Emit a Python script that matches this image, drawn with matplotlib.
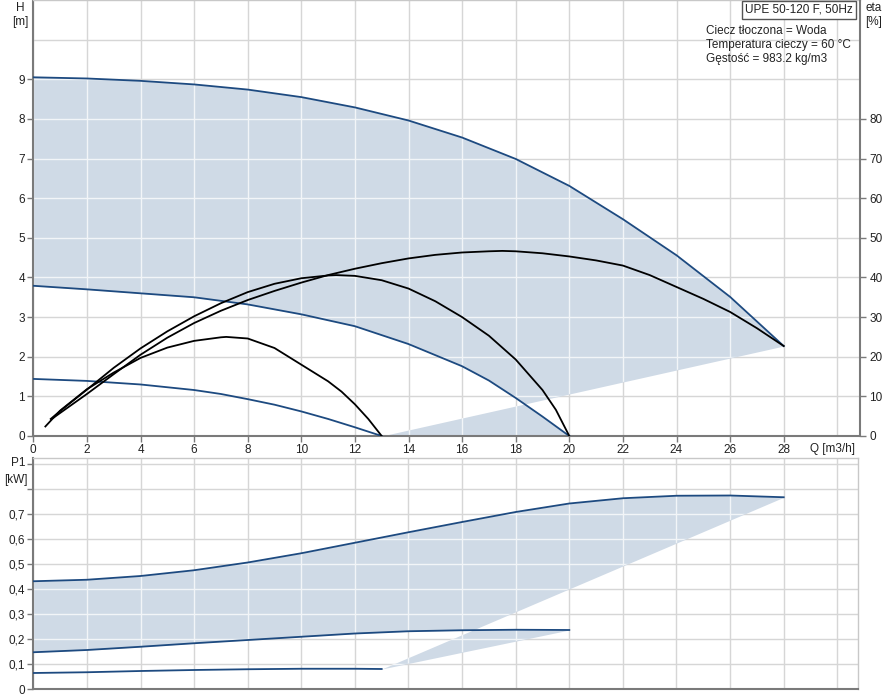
import numpy as np
import matplotlib.pyplot as plt
from matplotlib.path import Path
from matplotlib.patches import PathPatch

plt.rcParams['font.family'] = ['Liberation Sans', 'DejaVu Sans']
plt.rcParams['font.size'] = 8.5

# pump curves (Q in m3/h)
q_h_max = [0, 2, 4, 6, 8, 10, 12, 14, 16, 18, 20, 22, 24, 26, 28]
h_max = [9.05, 9.02, 8.96, 8.87, 8.74, 8.55, 8.29, 7.96, 7.53, 6.99, 6.31, 5.47, 4.56, 3.51, 2.27]
q_h_mid = [0, 2, 4, 6, 8, 10, 12, 14, 16, 17, 18, 19, 20]
h_mid = [3.79, 3.70, 3.60, 3.50, 3.32, 3.07, 2.77, 2.32, 1.76, 1.40, 0.96, 0.49, 0.0]
q_h_min = [0, 2, 4, 6, 7, 8, 9, 10, 11, 12, 13]
h_min = [1.44, 1.39, 1.30, 1.16, 1.06, 0.93, 0.79, 0.62, 0.43, 0.22, 0.0]

q_eta_max = [0.75, 1, 2, 3, 4, 5, 6, 7, 8, 9, 10, 11, 12, 13, 14, 15, 16, 17, 17.5, 18, 19,
             20, 21, 22, 23, 24, 25, 26, 27, 28]
eta_max = [4.6, 5.8, 10.6, 15.6, 20.5, 24.8, 28.5, 31.6, 34.3, 36.6, 38.7, 40.6, 42.2, 43.6,
           44.8, 45.7, 46.3, 46.6, 46.7, 46.6, 46.1, 45.3, 44.3, 43.0, 40.6, 37.6, 34.6, 31.3, 27.2, 22.7]
q_eta_mid = [0.65, 1, 2, 3, 4, 5, 6, 7, 8, 9, 10, 11, 11.3, 12, 13, 14, 15, 16, 17, 18, 19, 19.5, 20]
eta_mid = [4.3, 6.3, 11.7, 17.2, 22.1, 26.4, 30.2, 33.5, 36.3, 38.4, 39.8, 40.5, 40.6, 40.4,
           39.3, 37.2, 34.0, 30.0, 25.3, 19.3, 11.6, 6.6, 0.0]
q_eta_min = [0.45, 1, 2, 3, 4, 5, 6, 7, 7.2, 8, 9, 10, 11, 11.5, 12, 12.5, 13]
eta_min = [2.4, 6.4, 11.8, 16.0, 19.7, 22.3, 24.0, 24.9, 25.0, 24.6, 22.2, 18.0, 13.8, 11.2, 8.0, 4.3, 0.0]

q_p_max = [0, 2, 4, 6, 8, 10, 12, 14, 16, 18, 20, 22, 24, 26, 28]
p_max = [0.431, 0.437, 0.452, 0.475, 0.506, 0.543, 0.585, 0.627, 0.668, 0.708, 0.742, 0.763,
         0.773, 0.774, 0.767]
q_p_mid = [0, 2, 4, 6, 8, 10, 12, 14, 16, 18, 20]
p_mid = [0.147, 0.156, 0.169, 0.183, 0.196, 0.209, 0.222, 0.231, 0.235, 0.237, 0.236]
q_p_min = [0, 2, 4, 6, 8, 10, 12, 13]
p_min = [0.064, 0.067, 0.072, 0.076, 0.079, 0.081, 0.081, 0.080]

x_ticks = list(range(0, 29, 2))
h_ticks = list(range(0, 10))
eta_ticks = list(range(0, 81, 10))
p_ticks = [0, 0.1, 0.2, 0.3, 0.4, 0.5, 0.6, 0.7]
p_labels = ['0', '0,1', '0,2', '0,3', '0,4', '0,5', '0,6', '0,7']

FILL = '#cfdae6'
CURVE = '#1d4a80'
GRID = '#d6d6d6'
AXIS = '#7a7a7a'
BORDER = '#c8c8c8'
TXT = '#222222'

W, Hpx = 886, 699
fig = plt.figure(figsize=(W / 100, Hpx / 100), dpi=100)


def fx(px):
    return px / W


def fy(py):
    return 1 - py / Hpx


def work_area(ax, q_top, v_top, q_mid, v_mid, q_low, v_low):
    # shaded area = area under max curve xor area under mid curve
    xs = np.linspace(0, q_top[-1], 1121)
    q_brk = q_low[-1]
    low = np.interp(xs, q_low, v_low)
    a_hi = np.interp(xs, q_top, v_top)
    a_lo = np.where(xs <= q_brk, low, np.interp(xs, [q_brk, q_top[-1]], [v_low[-1], v_top[-1]]))
    b_hi = np.interp(xs, q_mid, v_mid)
    b_lo = np.where(xs <= q_brk, low, np.interp(xs, [q_brk, q_mid[-1]], [v_low[-1], v_mid[-1]]))
    out = xs > q_mid[-1]
    b_hi = np.where(out, a_lo, b_hi)
    b_lo = np.where(out, a_lo, b_lo)
    p = np.sort(np.vstack([a_lo, a_hi, b_lo, b_hi]), axis=0)
    c1 = ax.fill_between(xs, p[0], p[1], color=FILL, lw=0, zorder=1)
    c2 = ax.fill_between(xs, p[2], p[3], color=FILL, lw=0, zorder=1)
    path = Path.make_compound_path(*c1.get_paths(), *c2.get_paths())
    return PathPatch(path, transform=ax.transData, fc='none', ec='none')


def grid_lines(ax, xs, ys, clip):
    for x in xs:
        ax.axvline(x, color=GRID, lw=1, zorder=0.5)
        ax.axvline(x, color='#f2f5f8', lw=1, zorder=1.5).set_clip_path(clip)
    for y in ys:
        ax.axhline(y, color=GRID, lw=1, zorder=0.5)
        ax.axhline(y, color='#f2f5f8', lw=1, zorder=1.5).set_clip_path(clip)


def frame(ax):
    for s in ['left', 'bottom']:
        ax.spines[s].set_color(AXIS)
        ax.spines[s].set_linewidth(1.5)
    for s in ['top', 'right']:
        ax.spines[s].set_color(BORDER)
        ax.spines[s].set_linewidth(1)
    ax.tick_params(direction='out', length=4, width=1, color=AXIS, labelcolor=TXT, labelsize=8.5, pad=2)


# ---- top: head + efficiency ----
ax = fig.add_axes([fx(33.3), fy(436), fx(859.5) - fx(33.3), 436 / Hpx])
ax.set_xlim(0, (859.5 - 33.3) / 26.8)
ax.set_ylim(0, 11)
clip = work_area(ax, q_h_max, h_max, q_h_mid, h_mid, q_h_min, h_min)
grid_lines(ax, range(0, 31, 2), range(1, 11), clip)
ax.plot(q_h_max, h_max, color=CURVE, lw=1.3, zorder=3)
ax.plot(q_h_mid, h_mid, color=CURVE, lw=1.3, zorder=3)
ax.plot(q_h_min, h_min, color=CURVE, lw=1.3, zorder=3)
frame(ax)
ax.set_xticks(x_ticks)
ax.set_yticks(h_ticks)
ax.spines['right'].set_visible(False)

ax_e = ax.twinx()
ax_e.set_ylim(0, 110)
ax_e.plot(q_eta_max, eta_max, color='black', lw=1.3)
ax_e.plot(q_eta_mid, eta_mid, color='black', lw=1.3)
ax_e.plot(q_eta_min, eta_min, color='black', lw=1.3)
ax_e.set_yticks(eta_ticks)
for s in ['left', 'top', 'bottom']:
    ax_e.spines[s].set_visible(False)
ax_e.spines['right'].set_color(AXIS)
ax_e.spines['right'].set_linewidth(1.5)
ax_e.tick_params(direction='out', length=4, width=1, color=AXIS, labelcolor=TXT, labelsize=8.5, pad=3)

# ---- bottom: power ----
axp = fig.add_axes([fx(33.3), fy(689), fx(858) - fx(33.3), (689 - 458) / Hpx])
axp.set_xlim(0, (858 - 33.3) / 26.8)
axp.set_ylim(0, (689 - 458) / 250)
clip_p = work_area(axp, q_p_max, p_max, q_p_mid, p_mid, q_p_min, p_min)
grid_lines(axp, range(0, 31, 2), [0.1, 0.2, 0.3, 0.4, 0.5, 0.6, 0.7, 0.8, 0.9], clip_p)
axp.plot(q_p_max, p_max, color=CURVE, lw=1.3, zorder=3)
axp.plot(q_p_mid, p_mid, color=CURVE, lw=1.3, zorder=3)
axp.plot(q_p_min, p_min, color=CURVE, lw=1.3, zorder=3)
frame(axp)
axp.set_xticks([])
axp.set_yticks(p_ticks + [0.8, 0.9])
axp.set_yticklabels(p_labels + ['', ''])

# ---- texts ----
fig.text(fx(20), fy(8), 'H', ha='center', va='center', color=TXT)
fig.text(fx(20), fy(22), '[m]', ha='center', va='center', color=TXT)
fig.text(fx(865), fy(8), 'eta', ha='left', va='center', color=TXT)
fig.text(fx(865), fy(22), '[%]', ha='left', va='center', color=TXT)
fig.text(fx(18), fy(463), 'P1', ha='center', va='center', color=TXT)
fig.text(fx(16), fy(480), '[kW]', ha='center', va='center', color=TXT)
fig.text(fx(855), fy(449), 'Q [m3/h]', ha='right', va='center', color=TXT)
fig.text(fx(799), fy(10), 'UPE 50-120 F, 50Hz', ha='center', va='center', color=TXT,
         bbox=dict(boxstyle='square,pad=0.25', fc='white', ec='#555555', lw=1))
info = ['Ciecz tłoczona = Woda', 'Temperatura cieczy = 60 °C', 'Gęstość = 983.2 kg/m3']
for i, line in enumerate(info):
    fig.text(fx(706), fy(31 + 14 * i), line, ha='left', va='center', color=TXT)

fig.savefig('out.png', dpi=100)
plt.close(fig)
